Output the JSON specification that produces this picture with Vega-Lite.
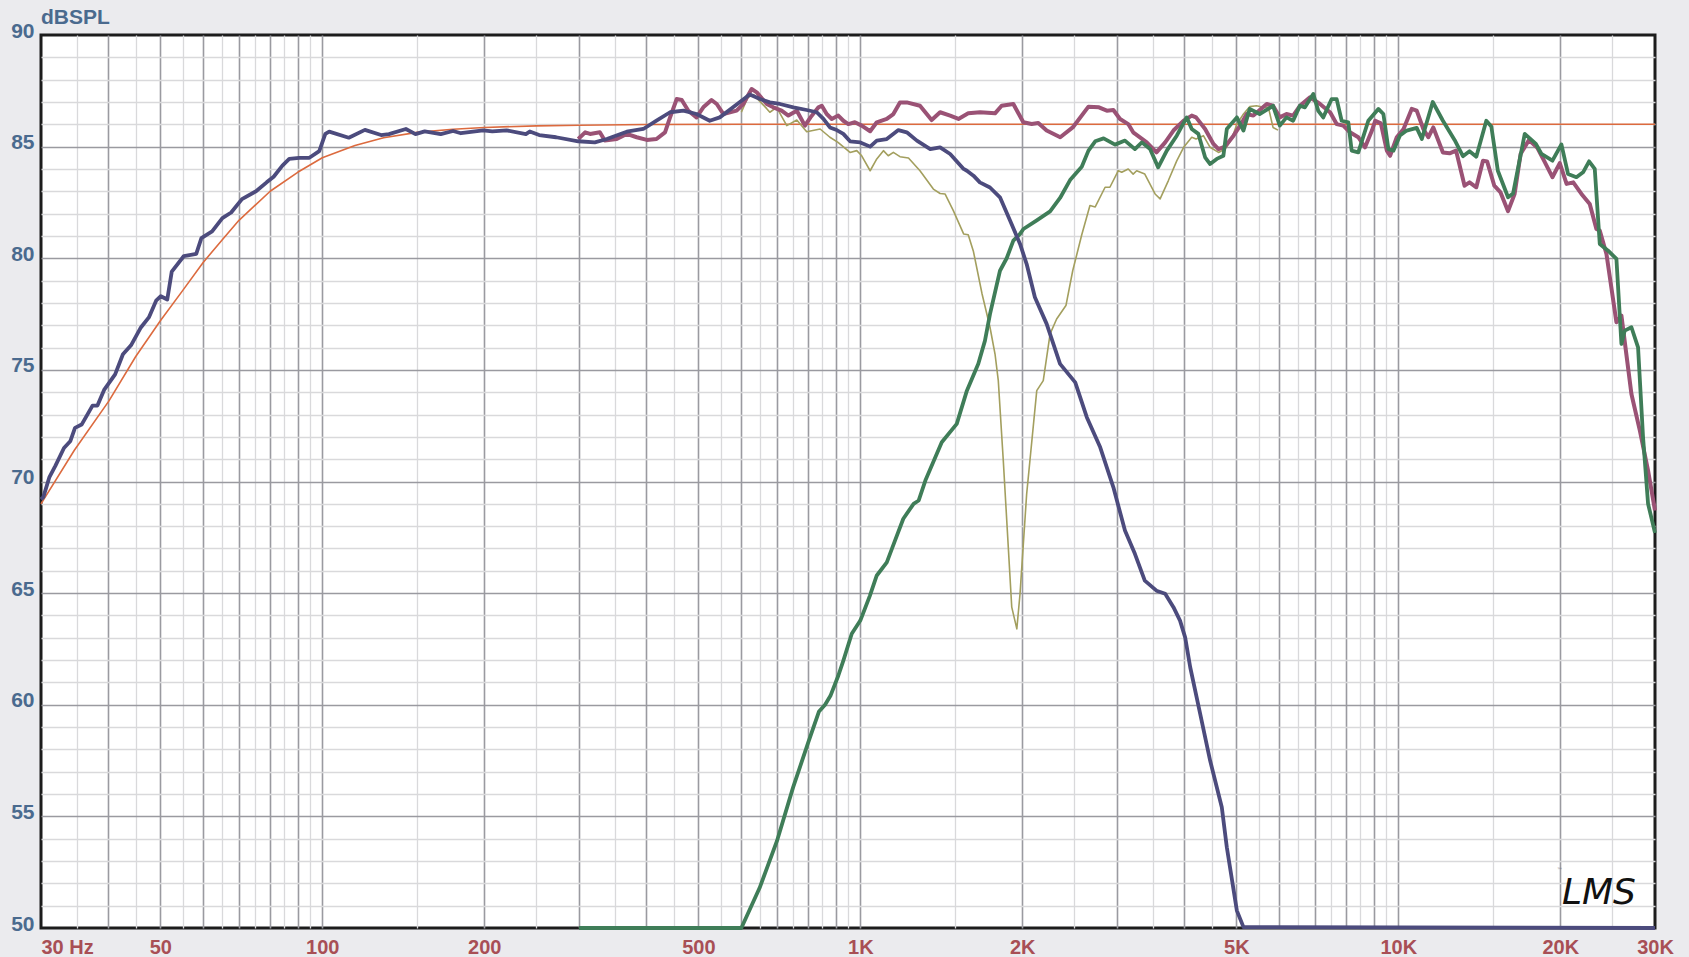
{
"$schema": "https://vega.github.io/schema/vega-lite/v6.json",
"width": 1614, "height": 893,
"autosize": {"type": "none"},
"padding": {"left": 41, "top": 35, "right": 34, "bottom": 29},
"background": "#ebebee",
"config": {"view": {"fill": "#ffffff", "stroke": "#1c1c1c", "strokeWidth": 3}, "font": "Liberation Sans"},
"title": {"text": "dBSPL", "anchor": "start", "frame": "group", "font": "Liberation Sans", "fontSize": 21, "fontWeight": "bold", "color": "#4a6a8e", "offset": -8},
"data": {"values": [
{"s":"w","f":30,"db":69.2},{"s":"w","f":30.3,"db":69.3},{"s":"w","f":31.1,"db":70.2},{"s":"w","f":31.9,"db":70.7},{"s":"w","f":33.1,"db":71.5},{"s":"w","f":34,"db":71.8},{"s":"w","f":34.7,"db":72.4},{"s":"w","f":35.7,"db":72.55},{"s":"w","f":37.4,"db":73.4},{"s":"w","f":38.2,"db":73.4},{"s":"w","f":39.3,"db":74.1},{"s":"w","f":41.2,"db":74.8},{"s":"w","f":42.6,"db":75.7},{"s":"w","f":44.1,"db":76.1},{"s":"w","f":46,"db":76.9},{"s":"w","f":47.6,"db":77.35},{"s":"w","f":49.1,"db":78.1},{"s":"w","f":50.1,"db":78.3},{"s":"w","f":51.5,"db":78.15},{"s":"w","f":52.5,"db":79.4},{"s":"w","f":55.3,"db":80.1},{"s":"w","f":58.3,"db":80.2},{"s":"w","f":59.6,"db":80.9},{"s":"w","f":62.4,"db":81.2},{"s":"w","f":65.2,"db":81.8},{"s":"w","f":67.7,"db":82.05},{"s":"w","f":70.9,"db":82.65},{"s":"w","f":75.3,"db":83},{"s":"w","f":78.8,"db":83.4},{"s":"w","f":81.2,"db":83.65},{"s":"w","f":84.3,"db":84.15},{"s":"w","f":86.8,"db":84.45},{"s":"w","f":90.6,"db":84.5},{"s":"w","f":94.6,"db":84.5},{"s":"w","f":98.7,"db":84.8},{"s":"w","f":101.3,"db":85.57},{"s":"w","f":103,"db":85.67},{"s":"w","f":112,"db":85.4},{"s":"w","f":120,"db":85.75},{"s":"w","f":128.6,"db":85.52},{"s":"w","f":133,"db":85.56},{"s":"w","f":143,"db":85.79},{"s":"w","f":149,"db":85.56},{"s":"w","f":155,"db":85.68},{"s":"w","f":166,"db":85.56},{"s":"w","f":175,"db":85.7},{"s":"w","f":181,"db":85.6},{"s":"w","f":199,"db":85.73},{"s":"w","f":207,"db":85.68},{"s":"w","f":220,"db":85.73},{"s":"w","f":239,"db":85.56},{"s":"w","f":243,"db":85.68},{"s":"w","f":253,"db":85.52},{"s":"w","f":272,"db":85.42},{"s":"w","f":299,"db":85.24},{"s":"w","f":321,"db":85.19},{"s":"w","f":338,"db":85.34},{"s":"w","f":368,"db":85.67},{"s":"w","f":395,"db":85.79},{"s":"w","f":418,"db":86.16},{"s":"w","f":443,"db":86.54},{"s":"w","f":469,"db":86.61},{"s":"w","f":496,"db":86.46},{"s":"w","f":525,"db":86.16},{"s":"w","f":548,"db":86.31},{"s":"w","f":580,"db":86.76},{"s":"w","f":623,"db":87.33},{"s":"w","f":651,"db":87.13},{"s":"w","f":679,"db":86.98},{"s":"w","f":709,"db":86.91},{"s":"w","f":751,"db":86.76},{"s":"w","f":795,"db":86.64},{"s":"w","f":830,"db":86.54},{"s":"w","f":854,"db":86.24},{"s":"w","f":878,"db":85.86},{"s":"w","f":904,"db":85.74},{"s":"w","f":930,"db":85.57},{"s":"w","f":957,"db":85.24},{"s":"w","f":1000,"db":85.19},{"s":"w","f":1043,"db":85},{"s":"w","f":1073,"db":85.27},{"s":"w","f":1120,"db":85.34},{"s":"w","f":1177,"db":85.74},{"s":"w","f":1220,"db":85.64},{"s":"w","f":1274,"db":85.27},{"s":"w","f":1349,"db":84.89},{"s":"w","f":1407,"db":84.97},{"s":"w","f":1469,"db":84.67},{"s":"w","f":1556,"db":84},{"s":"w","f":1578,"db":83.92},{"s":"w","f":1623,"db":83.7},{"s":"w","f":1668,"db":83.4},{"s":"w","f":1742,"db":83.17},{"s":"w","f":1818,"db":82.73},{"s":"w","f":1899,"db":81.68},{"s":"w","f":1981,"db":80.64},{"s":"w","f":2038,"db":79.74},{"s":"w","f":2111,"db":78.25},{"s":"w","f":2220,"db":77.06},{"s":"w","f":2351,"db":75.27},{"s":"w","f":2509,"db":74.44},{"s":"w","f":2636,"db":72.88},{"s":"w","f":2792,"db":71.53},{"s":"w","f":2954,"db":69.74},{"s":"w","f":3104,"db":67.8},{"s":"w","f":3239,"db":66.76},{"s":"w","f":3379,"db":65.56},{"s":"w","f":3552,"db":65.11},{"s":"w","f":3687,"db":64.97},{"s":"w","f":3820,"db":64.37},{"s":"w","f":3929,"db":63.77},{"s":"w","f":4016,"db":63.02},{"s":"w","f":4104,"db":61.68},{"s":"w","f":4283,"db":59.59},{"s":"w","f":4469,"db":57.5},{"s":"w","f":4698,"db":55.41},{"s":"w","f":4800,"db":53.62},{"s":"w","f":5011,"db":50.78},{"s":"w","f":5155,"db":50.04},{"s":"w","f":30000,"db":50},
{"s":"m","f":299,"db":85.34},{"s":"m","f":308,"db":85.64},{"s":"m","f":314.5,"db":85.57},{"s":"m","f":328,"db":85.64},{"s":"m","f":335,"db":85.27},{"s":"m","f":352.5,"db":85.34},{"s":"m","f":368,"db":85.57},{"s":"m","f":384,"db":85.42},{"s":"m","f":401,"db":85.3},{"s":"m","f":418,"db":85.34},{"s":"m","f":433.5,"db":85.64},{"s":"m","f":443,"db":86.31},{"s":"m","f":455.7,"db":87.13},{"s":"m","f":465.7,"db":87.09},{"s":"m","f":479,"db":86.61},{"s":"m","f":496,"db":86.31},{"s":"m","f":510.7,"db":86.76},{"s":"m","f":529,"db":87.09},{"s":"m","f":541,"db":86.91},{"s":"m","f":556.6,"db":86.46},{"s":"m","f":589,"db":86.61},{"s":"m","f":606,"db":86.91},{"s":"m","f":628,"db":87.58},{"s":"m","f":642,"db":87.43},{"s":"m","f":670,"db":86.91},{"s":"m","f":689,"db":86.76},{"s":"m","f":714,"db":86.61},{"s":"m","f":735,"db":86.39},{"s":"m","f":762,"db":86.61},{"s":"m","f":789,"db":85.94},{"s":"m","f":808,"db":86.31},{"s":"m","f":836,"db":86.76},{"s":"m","f":848,"db":86.83},{"s":"m","f":866,"db":86.46},{"s":"m","f":885,"db":86.24},{"s":"m","f":910,"db":86.39},{"s":"m","f":930,"db":86.16},{"s":"m","f":950,"db":86.01},{"s":"m","f":977,"db":86.09},{"s":"m","f":1006,"db":85.94},{"s":"m","f":1043,"db":85.69},{"s":"m","f":1073,"db":86.09},{"s":"m","f":1120,"db":86.24},{"s":"m","f":1152,"db":86.46},{"s":"m","f":1185,"db":86.98},{"s":"m","f":1220,"db":86.98},{"s":"m","f":1291,"db":86.83},{"s":"m","f":1357,"db":86.19},{"s":"m","f":1407,"db":86.54},{"s":"m","f":1469,"db":86.39},{"s":"m","f":1522,"db":86.24},{"s":"m","f":1587,"db":86.49},{"s":"m","f":1670,"db":86.54},{"s":"m","f":1780,"db":86.49},{"s":"m","f":1831,"db":86.83},{"s":"m","f":1925,"db":86.91},{"s":"m","f":2009,"db":86.09},{"s":"m","f":2082,"db":86.01},{"s":"m","f":2142,"db":86.06},{"s":"m","f":2220,"db":85.72},{"s":"m","f":2353,"db":85.42},{"s":"m","f":2482,"db":85.86},{"s":"m","f":2655,"db":86.79},{"s":"m","f":2777,"db":86.76},{"s":"m","f":2872,"db":86.61},{"s":"m","f":2954,"db":86.64},{"s":"m","f":3039,"db":86.24},{"s":"m","f":3148,"db":86.01},{"s":"m","f":3215,"db":85.64},{"s":"m","f":3407,"db":85.19},{"s":"m","f":3552,"db":84.74},{"s":"m","f":3687,"db":85.19},{"s":"m","f":3820,"db":85.72},{"s":"m","f":3990,"db":86.16},{"s":"m","f":4131,"db":86.39},{"s":"m","f":4208,"db":86.31},{"s":"m","f":4374,"db":85.79},{"s":"m","f":4533,"db":85.12},{"s":"m","f":4632,"db":84.89},{"s":"m","f":4764,"db":85},{"s":"m","f":4939,"db":85.49},{"s":"m","f":5082,"db":85.94},{"s":"m","f":5227,"db":86.46},{"s":"m","f":5377,"db":86.39},{"s":"m","f":5694,"db":86.91},{"s":"m","f":5850,"db":86.83},{"s":"m","f":6022,"db":86.31},{"s":"m","f":6197,"db":86.46},{"s":"m","f":6375,"db":86.39},{"s":"m","f":6563,"db":86.83},{"s":"m","f":6851,"db":87.21},{"s":"m","f":7153,"db":86.91},{"s":"m","f":7473,"db":86.53},{"s":"m","f":7681,"db":86.01},{"s":"m","f":7902,"db":85.94},{"s":"m","f":8131,"db":85.64},{"s":"m","f":8426,"db":85.42},{"s":"m","f":8673,"db":84.97},{"s":"m","f":8932,"db":85.72},{"s":"m","f":9061,"db":86.16},{"s":"m","f":9280,"db":86.04},{"s":"m","f":9521,"db":84.82},{"s":"m","f":9654,"db":84.59},{"s":"m","f":9935,"db":85.42},{"s":"m","f":10227,"db":85.79},{"s":"m","f":10590,"db":86.69},{"s":"m","f":10820,"db":86.61},{"s":"m","f":11131,"db":85.79},{"s":"m","f":11370,"db":85.42},{"s":"m","f":11616,"db":85.86},{"s":"m","f":12104,"db":84.74},{"s":"m","f":12454,"db":84.7},{"s":"m","f":12804,"db":84.82},{"s":"m","f":13278,"db":83.25},{"s":"m","f":13563,"db":83.4},{"s":"m","f":13963,"db":83.18},{"s":"m","f":14368,"db":84.37},{"s":"m","f":14624,"db":84.34},{"s":"m","f":15081,"db":83.25},{"s":"m","f":15490,"db":82.95},{"s":"m","f":15995,"db":82.11},{"s":"m","f":16449,"db":82.88},{"s":"m","f":16878,"db":84.67},{"s":"m","f":17492,"db":85.3},{"s":"m","f":18133,"db":84.95},{"s":"m","f":18658,"db":84.37},{"s":"m","f":19340,"db":83.63},{"s":"m","f":19958,"db":84.26},{"s":"m","f":20549,"db":83.33},{"s":"m","f":21143,"db":83.4},{"s":"m","f":21899,"db":82.88},{"s":"m","f":22691,"db":82.43},{"s":"m","f":23346,"db":81.31},{"s":"m","f":23684,"db":81.24},{"s":"m","f":24372,"db":80.19},{"s":"m","f":25434,"db":77.13},{"s":"m","f":25984,"db":77.43},{"s":"m","f":27121,"db":73.92},{"s":"m","f":28118,"db":72.28},{"s":"m","f":29123,"db":70.49},{"s":"m","f":30000,"db":68.7},
{"s":"t","f":300,"db":50},{"s":"t","f":601,"db":50},{"s":"t","f":650,"db":51.8},{"s":"t","f":700,"db":53.9},{"s":"t","f":750,"db":56.3},{"s":"t","f":800,"db":58.3},{"s":"t","f":838,"db":59.7},{"s":"t","f":860,"db":60},{"s":"t","f":880,"db":60.4},{"s":"t","f":910,"db":61.3},{"s":"t","f":930,"db":61.98},{"s":"t","f":964,"db":63.18},{"s":"t","f":1000,"db":63.77},{"s":"t","f":1042,"db":64.89},{"s":"t","f":1073,"db":65.79},{"s":"t","f":1120,"db":66.38},{"s":"t","f":1160,"db":67.35},{"s":"t","f":1202,"db":68.33},{"s":"t","f":1256,"db":69},{"s":"t","f":1284,"db":69.15},{"s":"t","f":1321,"db":70.04},{"s":"t","f":1417,"db":71.76},{"s":"t","f":1511,"db":72.58},{"s":"t","f":1578,"db":74.07},{"s":"t","f":1657,"db":75.27},{"s":"t","f":1705,"db":76.31},{"s":"t","f":1742,"db":77.5},{"s":"t","f":1818,"db":79.44},{"s":"t","f":1871,"db":80},{"s":"t","f":1925,"db":80.79},{"s":"t","f":1981,"db":81.09},{"s":"t","f":2010,"db":81.31},{"s":"t","f":2128,"db":81.7},{"s":"t","f":2253,"db":82.1},{"s":"t","f":2351,"db":82.7},{"s":"t","f":2454,"db":83.5},{"s":"t","f":2580,"db":84.1},{"s":"t","f":2655,"db":84.82},{"s":"t","f":2733,"db":85.24},{"s":"t","f":2833,"db":85.37},{"s":"t","f":2975,"db":85.09},{"s":"t","f":3104,"db":85.27},{"s":"t","f":3239,"db":84.89},{"s":"t","f":3337,"db":85.19},{"s":"t","f":3456,"db":84.89},{"s":"t","f":3578,"db":84.07},{"s":"t","f":3713,"db":84.82},{"s":"t","f":3874,"db":85.49},{"s":"t","f":4043,"db":86.31},{"s":"t","f":4131,"db":85.79},{"s":"t","f":4250,"db":85.57},{"s":"t","f":4374,"db":84.52},{"s":"t","f":4469,"db":84.22},{"s":"t","f":4598,"db":84.45},{"s":"t","f":4730,"db":84.59},{"s":"t","f":4800,"db":85.79},{"s":"t","f":5011,"db":86.31},{"s":"t","f":5155,"db":85.72},{"s":"t","f":5293,"db":86.69},{"s":"t","f":5524,"db":86.46},{"s":"t","f":5850,"db":86.83},{"s":"t","f":6022,"db":85.94},{"s":"t","f":6197,"db":86.31},{"s":"t","f":6375,"db":86.16},{"s":"t","f":6563,"db":86.83},{"s":"t","f":6705,"db":86.76},{"s":"t","f":6949,"db":87.36},{"s":"t","f":7100,"db":86.6},{"s":"t","f":7252,"db":86.31},{"s":"t","f":7518,"db":87.13},{"s":"t","f":7681,"db":87.13},{"s":"t","f":7847,"db":86.16},{"s":"t","f":8073,"db":86.09},{"s":"t","f":8190,"db":84.82},{"s":"t","f":8426,"db":84.74},{"s":"t","f":8795,"db":86.16},{"s":"t","f":9181,"db":86.69},{"s":"t","f":9381,"db":86.46},{"s":"t","f":9584,"db":84.89},{"s":"t","f":9792,"db":84.82},{"s":"t","f":10071,"db":85.5},{"s":"t","f":10364,"db":85.72},{"s":"t","f":10820,"db":85.84},{"s":"t","f":11060,"db":85.34},{"s":"t","f":11588,"db":87},{"s":"t","f":12104,"db":86.16},{"s":"t","f":12723,"db":85.3},{"s":"t","f":13186,"db":84.57},{"s":"t","f":13563,"db":84.79},{"s":"t","f":13963,"db":84.55},{"s":"t","f":14574,"db":86.16},{"s":"t","f":14890,"db":85.9},{"s":"t","f":15311,"db":83.92},{"s":"t","f":15995,"db":82.73},{"s":"t","f":16342,"db":82.9},{"s":"t","f":17180,"db":85.57},{"s":"t","f":18020,"db":85.12},{"s":"t","f":18454,"db":84.67},{"s":"t","f":19340,"db":84.37},{"s":"t","f":20099,"db":85.1},{"s":"t","f":20680,"db":83.77},{"s":"t","f":21431,"db":83.63},{"s":"t","f":22051,"db":83.85},{"s":"t","f":22626,"db":84.34},{"s":"t","f":23182,"db":84},{"s":"t","f":23684,"db":80.64},{"s":"t","f":24546,"db":80.34},{"s":"t","f":25434,"db":79.97},{"s":"t","f":25984,"db":76.16},{"s":"t","f":26354,"db":76.76},{"s":"t","f":27121,"db":76.91},{"s":"t","f":27902,"db":76.01},{"s":"t","f":28505,"db":71.98},{"s":"t","f":29123,"db":69},{"s":"t","f":30000,"db":67.7},
{"s":"o","f":601,"db":86.54},{"s":"o","f":618,"db":87.2},{"s":"o","f":633,"db":87.33},{"s":"o","f":670,"db":86.7},{"s":"o","f":679,"db":86.54},{"s":"o","f":699,"db":86.76},{"s":"o","f":730,"db":85.94},{"s":"o","f":762,"db":86.19},{"s":"o","f":795,"db":85.67},{"s":"o","f":842,"db":85.79},{"s":"o","f":878,"db":85.42},{"s":"o","f":909,"db":85.19},{"s":"o","f":957,"db":84.74},{"s":"o","f":985,"db":84.82},{"s":"o","f":1006,"db":84.59},{"s":"o","f":1043,"db":83.92},{"s":"o","f":1073,"db":84.45},{"s":"o","f":1104,"db":84.82},{"s":"o","f":1127,"db":84.59},{"s":"o","f":1152,"db":84.74},{"s":"o","f":1185,"db":84.55},{"s":"o","f":1229,"db":84.49},{"s":"o","f":1291,"db":83.92},{"s":"o","f":1367,"db":83.1},{"s":"o","f":1407,"db":82.9},{"s":"o","f":1437,"db":82.88},{"s":"o","f":1489,"db":82.13},{"s":"o","f":1556,"db":81.09},{"s":"o","f":1587,"db":81.05},{"s":"o","f":1623,"db":80.3},{"s":"o","f":1684,"db":78.4},{"s":"o","f":1742,"db":76.91},{"s":"o","f":1780,"db":75.71},{"s":"o","f":1805,"db":74.52},{"s":"o","f":1844,"db":70.94},{"s":"o","f":1912,"db":64.37},{"s":"o","f":1954,"db":63.4},{"s":"o","f":1981,"db":64.97},{"s":"o","f":2038,"db":69.44},{"s":"o","f":2128,"db":74.07},{"s":"o","f":2188,"db":74.52},{"s":"o","f":2253,"db":76.61},{"s":"o","f":2317,"db":77.28},{"s":"o","f":2411,"db":77.88},{"s":"o","f":2482,"db":79.44},{"s":"o","f":2580,"db":81.05},{"s":"o","f":2672,"db":82.36},{"s":"o","f":2733,"db":82.3},{"s":"o","f":2851,"db":83.18},{"s":"o","f":2910,"db":83.18},{"s":"o","f":3017,"db":83.92},{"s":"o","f":3061,"db":83.85},{"s":"o","f":3148,"db":84},{"s":"o","f":3215,"db":83.77},{"s":"o","f":3263,"db":83.92},{"s":"o","f":3379,"db":83.77},{"s":"o","f":3531,"db":82.88},{"s":"o","f":3608,"db":82.66},{"s":"o","f":3738,"db":83.48},{"s":"o","f":3874,"db":84.36},{"s":"o","f":3990,"db":84.97},{"s":"o","f":4131,"db":85.42},{"s":"o","f":4208,"db":85.34},{"s":"o","f":4342,"db":85.49},{"s":"o","f":4469,"db":84.97},{"s":"o","f":4632,"db":84.74},{"s":"o","f":4764,"db":84.89},{"s":"o","f":4903,"db":85.34},{"s":"o","f":5011,"db":86.01},{"s":"o","f":5155,"db":86.46},{"s":"o","f":5293,"db":86.79},{"s":"o","f":5450,"db":86.83},{"s":"o","f":5613,"db":86.76},{"s":"o","f":5735,"db":86.76},{"s":"o","f":5850,"db":85.86},{"s":"o","f":5976,"db":85.74},
{"s":"r","f":30,"db":69},{"s":"r","f":34.6,"db":71.4},{"s":"r","f":40.1,"db":73.6},{"s":"r","f":45,"db":75.6},{"s":"r","f":50,"db":77.2},{"s":"r","f":55,"db":78.55},{"s":"r","f":60,"db":79.8},{"s":"r","f":65,"db":80.8},{"s":"r","f":70,"db":81.7},{"s":"r","f":80,"db":83},{"s":"r","f":90,"db":83.85},{"s":"r","f":100,"db":84.5},{"s":"r","f":115,"db":85.05},{"s":"r","f":130,"db":85.4},{"s":"r","f":150,"db":85.64},{"s":"r","f":175,"db":85.78},{"s":"r","f":200,"db":85.86},{"s":"r","f":250,"db":85.93},{"s":"r","f":300,"db":85.96},{"s":"r","f":400,"db":85.99},{"s":"r","f":600,"db":86},{"s":"r","f":30000,"db":86}
]},
"encoding": {
 "x": {"field": "f", "type": "quantitative", "scale": {"type": "log", "domain": [30, 30000], "nice": false, "zero": false},
  "axis": {"title": null,
   "values": [30,35,40,45,50,55,60,65,70,75,80,85,90,95,100,150,200,250,300,350,400,450,500,550,600,650,700,750,800,850,900,950,1000,1500,2000,2500,3000,3500,4000,4500,5000,5500,6000,6500,7000,7500,8000,8500,9000,9500,10000,15000,20000,25000,30000],
   "labelExpr": "datum.value == 30 ? '30  Hz' : (indexof([50,100,200,500], datum.value) >= 0 ? datum.value + '' : (indexof([1000,2000,5000,10000,20000,30000], datum.value) >= 0 ? (datum.value/1000) + 'K' : ''))",
   "grid": true,
   "gridColor": {"condition": {"test": "(datum.value / pow(10, floor(log(datum.value) / LN10 + 1e-9))) % 1 == 0", "value": "#9a9aa0"}, "value": "#d9d9db"},
   "gridWidth": {"condition": {"test": "(datum.value / pow(10, floor(log(datum.value) / LN10 + 1e-9))) % 1 == 0", "value": 1.6}, "value": 1.3},
   "gridOpacity": {"condition": {"test": "datum.value == 30 || datum.value == 30000", "value": 0}, "value": 1},
   "ticks": false, "domain": false,
   "labelFont": "Liberation Sans", "labelFontSize": 20, "labelFontWeight": "bold", "labelColor": "#a84f55",
   "labelPadding": 9, "labelFlush": false, "labelOverlap": false,
   "labelAlign": {"condition": {"test": "datum.value == 30", "value": "left"}, "value": "center"}
  }},
 "y": {"field": "db", "type": "quantitative", "scale": {"domain": [50, 90], "nice": false, "zero": false},
  "axis": {"title": null,
   "values": [50,51,52,53,54,55,56,57,58,59,60,61,62,63,64,65,66,67,68,69,70,71,72,73,74,75,76,77,78,79,80,81,82,83,84,85,86,87,88,89,90],
   "labelExpr": "datum.value % 5 == 0 ? datum.value + '' : ''",
   "grid": true,
   "gridColor": {"condition": {"test": "datum.value % 5 == 0", "value": "#9a9aa0"}, "value": "#d9d9db"},
   "gridWidth": {"condition": {"test": "datum.value % 5 == 0", "value": 1.6}, "value": 1.3},
   "gridOpacity": {"condition": {"test": "datum.value == 50 || datum.value == 90", "value": 0}, "value": 1},
   "ticks": false, "domain": false,
   "labelFont": "Liberation Sans", "labelFontSize": 21, "labelFontWeight": "bold", "labelColor": "#4a6a8e",
   "labelPadding": 7, "labelOffset": -4, "labelOverlap": false, "labelFlush": false
  }}
},
"layer": [
 {"transform": [{"filter": "datum.s == 'r'"}], "mark": {"type": "line", "color": "#dc6a3e", "strokeWidth": 1.6, "strokeJoin": "round"}},
 {"transform": [{"filter": "datum.s == 'o'"}], "mark": {"type": "line", "color": "#a39f5e", "strokeWidth": 1.6, "strokeJoin": "round"}},
 {"transform": [{"filter": "datum.s == 'm'"}], "mark": {"type": "line", "color": "#9a5275", "strokeWidth": 4, "strokeJoin": "round"}},
 {"transform": [{"filter": "datum.s == 't'"}], "mark": {"type": "line", "color": "#3f7d58", "strokeWidth": 3.8, "strokeJoin": "round"}},
 {"transform": [{"filter": "datum.s == 'w'"}], "mark": {"type": "line", "color": "#4c4b7d", "strokeWidth": 3.8, "strokeJoin": "round"}},
 {"data": {"values": [{"label": "LMS", "f": 23600, "db": 51.55}]}, "mark": {"type": "text", "font": "DejaVu Sans", "fontStyle": "italic", "fontSize": 36, "color": "#111111", "align": "center", "baseline": "middle"},
  "encoding": {"text": {"field": "label"}}},
 {"data": {"values": [{"label": "™", "f": 19700, "db": 52.75}]}, "mark": {"type": "text", "font": "DejaVu Sans", "fontSize": 6, "color": "#777777", "align": "left", "baseline": "top"},
  "encoding": {"text": {"field": "label"}}}
]
}
